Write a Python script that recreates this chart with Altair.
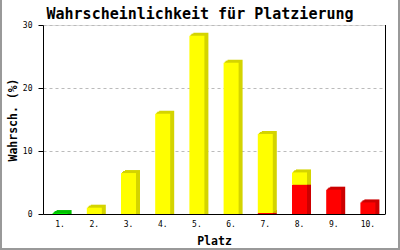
import altair as alt
import pandas as pd

places = ["1.", "2.", "3.", "4.", "5.", "6.", "7.", "8.", "9.", "10."]
red = [0, 0, 0, 0, 0, 0, 0.15, 4.65, 3.86, 1.84]
yellow = [0, 1.0, 6.5, 15.9, 28.3, 24.0, 12.55, 1.95, 0, 0]
green = [0.15, 0, 0, 0, 0, 0, 0, 0, 0, 0]
y_ticks = [0, 10, 20, 30]

series_names = ["red", "yellow", "green"]
front_colors = ["#ff0000", "#ffff00", "#00ee00"]
side_colors = ["#cc0000", "#d4d400", "#00c000"]

rows = []
for i, p in enumerate(places):
    base = 0.0
    for name, vals in zip(series_names, [red, yellow, green]):
        v = vals[i]
        if v > 0:
            rows.append({"Platz": p, "serie": name, "y0": base, "y1": base + v})
            base += v
df = pd.DataFrame(rows)

MONO = "DejaVu Sans Mono"

x_enc = alt.X("Platz:N", sort=places,
              scale=alt.Scale(domain=places, paddingInner=0, paddingOuter=0),
              axis=alt.Axis(title="Platz", labelAngle=0, ticks=False,
                            labelFont=MONO, labelFontSize=8, labelColor="black",
                            labelPadding=6, domainColor="black", domainWidth=1,
                            titleFont=MONO, titleFontSize=11.5, titleFontWeight="bold",
                            titleColor="black", titlePadding=7, grid=False))
y_enc = alt.Y("y1:Q", scale=alt.Scale(domain=[0, 30], nice=False),
              axis=alt.Axis(title="Wahrsch. (%)", values=y_ticks, grid=True,
                            gridDash=[3, 3], gridColor="#bbbbbb", gridWidth=1,
                            domainColor="black", domainWidth=1, tickColor="black",
                            tickSize=5, labelFont=MONO, labelFontSize=8,
                            labelColor="black", labelPadding=6,
                            titleFont=MONO, titleFontSize=11.5, titleFontWeight="bold",
                            titleColor="black", titlePadding=4))

base = alt.Chart(df)

layers = []
for dx, dy in [(4, -3), (3, -2), (2, -2), (1, -1)]:
    layers.append(
        base.mark_bar(size=15, xOffset=dx, yOffset=dy).encode(
            x=x_enc, y=y_enc, y2="y0:Q",
            color=alt.Color("serie:N", scale=alt.Scale(domain=series_names, range=side_colors), legend=None),
        )
    )
front = base.mark_bar(size=15).encode(
    x=x_enc, y=y_enc, y2="y0:Q",
    color=alt.Color("serie:N", scale=alt.Scale(domain=series_names, range=front_colors), legend=None),
)

right_line = alt.Chart(df).mark_rule(color="black", strokeWidth=1).encode(
    x=alt.value(342.5), y=alt.value(0), y2=alt.value(189))
border_left = alt.Chart(df).mark_rule(color="#999999", strokeWidth=2).encode(
    x=alt.value(-42), y=alt.value(-25), y2=alt.value(225))
border_right = alt.Chart(df).mark_rule(color="#999999", strokeWidth=2).encode(
    x=alt.value(356), y=alt.value(-25), y2=alt.value(225))
border_bottom = alt.Chart(df).mark_rule(color="#999999", strokeWidth=2).encode(
    x=alt.value(-43), x2=alt.value(357), y=alt.value(224))

chart = alt.layer(*layers, front, right_line, border_left, border_right, border_bottom).resolve_scale(
    color="independent"
).properties(
    width=342, height=189,
    title=alt.TitleParams("Wahrscheinlichkeit für Platzierung", font=MONO, fontSize=15,
                          fontWeight="bold", color="black", anchor="middle", dx=-14,
                          baseline="alphabetic", offset=-35),
    autosize=alt.AutoSizeParams(type="none"),
    padding={"left": 43, "top": 25, "right": 15, "bottom": 36},
).configure_view(stroke=None).configure(background="white")

chart.save("out.html", embed_options={"renderer": "svg", "actions": False})
